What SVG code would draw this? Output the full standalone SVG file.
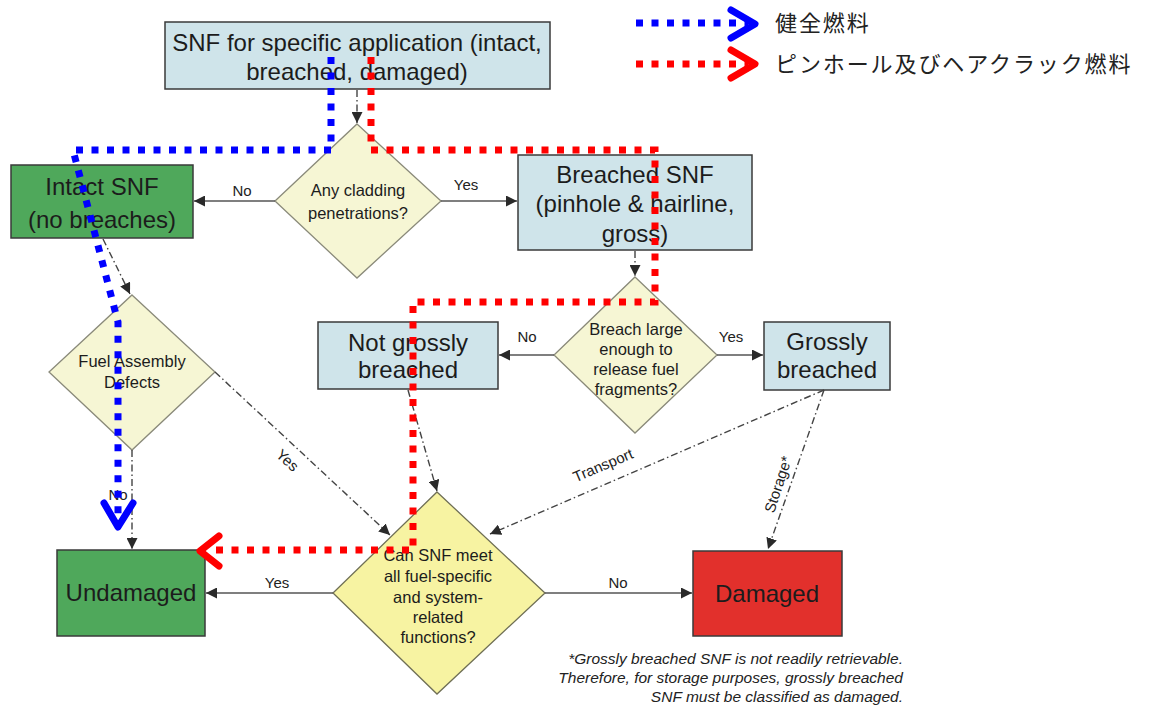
<svg xmlns="http://www.w3.org/2000/svg" width="1152" height="708" viewBox="0 0 1152 708">
<defs>
<style>
.box{stroke:#3a3a3a;stroke-width:1.5}
.blue{fill:#cfe4ea}
.green{fill:#4fa85b}
.red{fill:#e2302c}
.dia{fill:#f6f6d4;stroke:#8a8a7a;stroke-width:1.3}
.dia2{fill:#f7f3a2;stroke:#6f6f55;stroke-width:1.3}
.t{font-family:"Liberation Sans",Arial,sans-serif;fill:#1c1c1c;text-anchor:middle}
.big{font-size:24px}
.sm{font-size:16.5px}
.lbl{font-family:"Liberation Sans",Arial,sans-serif;font-size:15px;fill:#222;text-anchor:middle}
.solid{stroke:#555;stroke-width:1.4;fill:none}
.dd{stroke:#444;stroke-width:1.4;fill:none;stroke-dasharray:7 3 1.5 3}
.bd{stroke:#0000ff;stroke-width:7;fill:none;stroke-dasharray:7 8.5}
.rd{stroke:#ff0000;stroke-width:7;fill:none;stroke-dasharray:7 8.5}
.bch{stroke:#0000ff;stroke-width:7;fill:none;stroke-linecap:round;stroke-linejoin:round}
.rch{stroke:#ff0000;stroke-width:7;fill:none;stroke-linecap:round;stroke-linejoin:round}
.jp{font-family:"Noto Sans CJK JP",sans-serif;font-size:22px;fill:#222;letter-spacing:1.9px}
.note{font-family:"Liberation Sans",Arial,sans-serif;font-size:15.5px;font-style:italic;fill:#222;text-anchor:end}
</style>
<marker id="ah" viewBox="0 0 10 10" refX="10" refY="5" markerWidth="11" markerHeight="11" markerUnits="userSpaceOnUse" orient="auto">
<path d="M0,0 L10,5 L0,10 z" fill="#2a2a2a"/>
</marker>
</defs>
<rect width="1152" height="708" fill="#ffffff"/>

<g id="node-top">
<rect class="box blue" x="165" y="22" width="385" height="67"/>
<text class="t big" x="357" y="51">SNF for specific application (intact,</text>
<text class="t big" x="357" y="80">breached, damaged)</text>
</g>

<g id="node-cladding">
<polygon class="dia" points="357,124 441,201 357,278 275,201"/>
<text class="t sm" x="358" y="196">Any cladding</text>
<text class="t sm" x="358" y="219">penetrations?</text>
</g>

<g id="node-intact">
<rect class="box green" x="11" y="165" width="182" height="73"/>
<text class="t big" x="102" y="195">Intact SNF</text>
<text class="t big" x="102" y="228">(no breaches)</text>
</g>

<g id="node-breached">
<rect class="box blue" x="518" y="155" width="234" height="95"/>
<text class="t big" x="635" y="183">Breached SNF</text>
<text class="t big" x="635" y="212">(pinhole &amp; hairline,</text>
<text class="t big" x="635" y="242">gross)</text>
</g>

<g id="node-fuelassembly">
<polygon class="dia" points="132,295 215,372 132,450 49,372"/>
<text class="t sm" x="132" y="367">Fuel Assembly</text>
<text class="t sm" x="132" y="388">Defects</text>
</g>

<g id="node-breachlarge">
<polygon class="dia" points="635,277 717,355 635,433 554,355"/>
<text class="t sm" x="636" y="335">Breach large</text>
<text class="t sm" x="636" y="355">enough to</text>
<text class="t sm" x="636" y="375">release fuel</text>
<text class="t sm" x="636" y="395">fragments?</text>
</g>

<g id="node-notgross">
<rect class="box blue" x="318" y="322" width="180" height="67"/>
<text class="t big" x="408" y="351">Not grossly</text>
<text class="t big" x="408" y="378">breached</text>
</g>

<g id="node-gross">
<rect class="box blue" x="764" y="322" width="126" height="68"/>
<text class="t big" x="827" y="350">Grossly</text>
<text class="t big" x="827" y="378">breached</text>
</g>

<g id="node-canmeet">
<polygon class="dia2" points="437,492 545,593 437,694 333,593"/>
<text class="t sm" x="438" y="561">Can SNF meet</text>
<text class="t sm" x="438" y="582">all fuel-specific</text>
<text class="t sm" x="438" y="603">and system-</text>
<text class="t sm" x="438" y="623">related</text>
<text class="t sm" x="438" y="643">functions?</text>
</g>

<g id="node-undamaged">
<rect class="box green" x="57" y="550" width="148" height="86"/>
<text class="t big" x="131" y="601">Undamaged</text>
</g>

<g id="node-damaged">
<rect class="box red" x="693" y="551" width="149" height="85"/>
<text class="t big" x="767" y="602">Damaged</text>
</g>

<g id="note">
<text class="note" x="903" y="664">*Grossly breached SNF is not readily retrievable.</text>
<text class="note" x="903" y="683">Therefore, for storage purposes, grossly breached</text>
<text class="note" x="903" y="702">SNF must be classified as damaged.</text>
</g>

<g id="connectors">
<line class="dd" x1="357" y1="90" x2="357" y2="123" marker-end="url(#ah)"/>
<line class="solid" x1="275" y1="201" x2="194" y2="201" marker-end="url(#ah)"/>
<text class="lbl" x="242" y="196">No</text>
<line class="solid" x1="441" y1="201" x2="517" y2="201" marker-end="url(#ah)"/>
<text class="lbl" x="466" y="190">Yes</text>
<line class="dd" x1="635" y1="251" x2="635" y2="276" marker-end="url(#ah)"/>
<line class="solid" x1="554" y1="355" x2="499" y2="355" marker-end="url(#ah)"/>
<text class="lbl" x="527" y="342">No</text>
<line class="solid" x1="717" y1="355" x2="763" y2="355" marker-end="url(#ah)"/>
<text class="lbl" x="731" y="342">Yes</text>
<line class="dd" x1="103" y1="239" x2="130" y2="294" marker-end="url(#ah)"/>
<line class="dd" x1="132" y1="450" x2="132" y2="549" marker-end="url(#ah)"/>
<text class="lbl" x="118" y="500">No</text>
<line class="dd" x1="215" y1="372" x2="390" y2="535" marker-end="url(#ah)"/>
<text class="lbl" transform="translate(284,464) rotate(43)">Yes</text>
<line class="dd" x1="408" y1="390" x2="437" y2="491" marker-end="url(#ah)"/>
<line class="dd" x1="824" y1="390" x2="490" y2="534" marker-end="url(#ah)"/>
<text class="lbl" transform="translate(605,470) rotate(-23)">Transport</text>
<line class="dd" x1="824" y1="390" x2="768" y2="549" marker-end="url(#ah)"/>
<text class="lbl" transform="translate(783,486) rotate(-72)">Storage*</text>
<line class="solid" x1="333" y1="593" x2="206" y2="593" marker-end="url(#ah)"/>
<text class="lbl" x="277" y="588">Yes</text>
<line class="solid" x1="545" y1="593" x2="692" y2="593" marker-end="url(#ah)"/>
<text class="lbl" x="618" y="588">No</text>
</g>

<g id="overlay-paths">
<path class="bd" d="M331,57 V150 H73 L118,322 V520"/>
<polyline class="bch" points="104,503 118,527 133,503"/>
<path class="rd" d="M371,57 V150 H655 V302 H413 V550 H212"/>
<polyline class="rch" points="219,536 200,551 219,566"/>
</g>

<g id="legend">
<line class="bd" x1="636" y1="23" x2="748" y2="23"/>
<polyline class="bch" points="731,10 755,24 731,38"/>
<text class="jp" x="775" y="31">健全燃料</text>
<line class="rd" x1="636" y1="64" x2="748" y2="64"/>
<polyline class="rch" points="731,50 755,64 731,78"/>
<text class="jp" x="775" y="72">ピンホール及びヘアクラック燃料</text>
</g>
</svg>
